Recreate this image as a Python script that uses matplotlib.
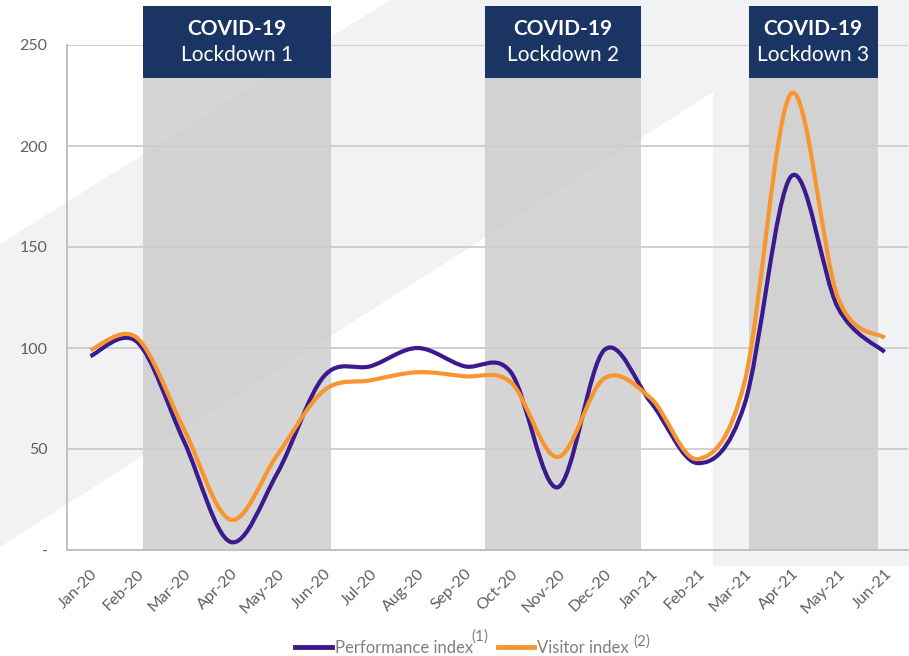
import matplotlib
matplotlib.use("Agg")
import matplotlib.pyplot as plt
from matplotlib.path import Path
from matplotlib.patches import PathPatch, Rectangle, Polygon
from matplotlib.lines import Line2D

plt.rcParams['font.family'] = ['Lato', 'DejaVu Sans']

# ---------- data ----------
months = ['Jan-20', 'Feb-20', 'Mar-20', 'Apr-20', 'May-20', 'Jun-20', 'Jul-20', 'Aug-20', 'Sep-20',
          'Oct-20', 'Nov-20', 'Dec-20', 'Jan-21', 'Feb-21', 'Mar-21', 'Apr-21', 'May-21', 'Jun-21']
performance = [96, 103, 54, 4, 38, 86, 91, 100, 91, 88, 31, 99, 73, 43, 72, 185, 120, 98]
visitor = [99, 105, 60, 15, 47, 79, 84, 88, 86, 83, 46, 85, 75, 45, 83, 226, 125, 105]

y_ticks = [0, 50, 100, 150, 200, 250]
y_ticklabels = ['-', '50', '100', '150', '200', '250']

lockdown_names = ['Lockdown 1', 'Lockdown 2', 'Lockdown 3']
lockdown_start = [1.13, 8.44, 14.09]   # in month index units
lockdown_end = [5.16, 11.78, 16.85]

# ---------- style ----------
W, H = 909, 656
purple = '#3b1a8e'
orange = '#f7962e'
navy = '#1a3563'
band_grey = '#f1f2f4'
text_grey = '#5f5f5f'


def smooth_path(xs, ys):
    """Excel-like smoothed line as cubic bezier segments."""
    n = len(xs)
    verts = [(xs[0], ys[0])]
    codes = [Path.MOVETO]
    for i in range(n - 1):
        a = i - 1 if i > 0 else i
        d = i + 2 if i + 2 < n else i + 1
        c1 = (xs[i] + (xs[i + 1] - xs[a]) / 6, ys[i] + (ys[i + 1] - ys[a]) / 6)
        c2 = (xs[i + 1] - (xs[d] - xs[i]) / 6, ys[i + 1] - (ys[d] - ys[i]) / 6)
        verts += [c1, c2, (xs[i + 1], ys[i + 1])]
        codes += [Path.CURVE4] * 3
    return Path(verts, codes)


def px(x, y):
    return (x / W, 1 - y / H)


fig = plt.figure(figsize=(W / 100, H / 100), dpi=100)
fig.patch.set_facecolor('white')

# diagonal light-grey background shape
bg = Polygon([px(390, 0), px(909, 0), px(909, 566), px(713, 566), px(713, 92),
              px(0, 547), px(0, 244)], closed=True, transform=fig.transFigure,
             facecolor=band_grey, edgecolor='none', zorder=-1)
fig.add_artist(bg)

ax = fig.add_axes([67 / W, 1 - 550 / H, (908 - 67) / W, (550 - 45) / H])
ax.patch.set_visible(False)

x = list(range(len(months)))
ax.set_xlim(-0.5, len(months) - 0.5)
ax.set_ylim(0, 250)

box_bottom = 233.7
box_top = 269.3
for name, x0, x1 in zip(lockdown_names, lockdown_start, lockdown_end):
    ax.add_patch(Rectangle((x0, 0), x1 - x0, box_bottom, facecolor='#c8c8c8', alpha=0.75,
                           edgecolor='none', zorder=0.3))
    ax.add_patch(Rectangle((x0, box_bottom), x1 - x0, box_top - box_bottom, facecolor=navy,
                           edgecolor='none', zorder=3, clip_on=False))
    xc = (x0 + x1) / 2
    ax.text(xc, 257.9, 'COVID-19', ha='center', va='center', color='white',
            fontsize=15, fontweight='bold', zorder=4, clip_on=False)
    ax.text(xc, 245.0, name, ha='center', va='center', color='white',
            fontsize=15, zorder=4, clip_on=False)

ax.add_patch(PathPatch(smooth_path(x, performance), facecolor='none', edgecolor=purple,
                       lw=3, zorder=5, capstyle='butt'))
ax.add_patch(PathPatch(smooth_path(x, visitor), facecolor='none', edgecolor=orange,
                       lw=3, zorder=6, capstyle='butt'))

ax.set_axisbelow(True)
ax.yaxis.grid(True, color='#cdcdcd', lw=1.3)
ax.set_yticks(y_ticks)
ax.set_yticklabels(y_ticklabels)
ax.set_xticks(x)
ax.set_xticklabels(months, rotation=45, ha='right', rotation_mode='anchor')
ax.tick_params(axis='y', length=0, pad=14, labelsize=11.5, labelcolor=text_grey)
ax.tick_params(axis='x', length=0, pad=12, labelsize=11.5, labelcolor=text_grey)
for side in ['top', 'right']:
    ax.spines[side].set_visible(False)
for side in ['left', 'bottom']:
    ax.spines[side].set_color('#bdbdbd')
    ax.spines[side].set_linewidth(1.3)

handles = [Line2D([], [], color=purple, lw=3.5), Line2D([], [], color=orange, lw=3.5)]
leg = fig.legend(handles, ['Performance index', 'Visitor index'], loc='center',
                 bbox_to_anchor=(462 / W, 1 - 648 / H), ncol=2, frameon=False,
                 fontsize=12, handlelength=2.2, handletextpad=0.15, columnspacing=1.5,
                 borderpad=0)
for t in leg.get_texts():
    t.set_color('#7f7f7f')

# superscript notes next to legend labels
fig.canvas.draw()
r = fig.canvas.get_renderer()
for t, note, dx, dy in zip(leg.get_texts(), ['(1)', '(2)'], [-1, 5], [-4, -9]):
    bb = t.get_window_extent(r)
    fig.text((bb.x1 + dx) / W, (bb.y1 + dy) / H, note, fontsize=11, color='#7f7f7f',
             ha='left', va='bottom')

fig.savefig('out.png', dpi=100)
